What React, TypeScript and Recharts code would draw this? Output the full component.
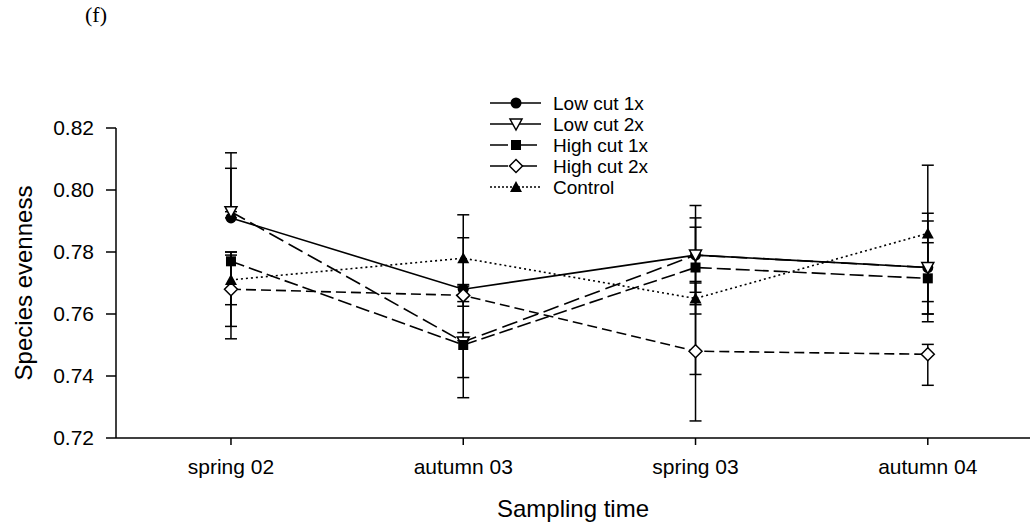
import { LineChart, Line, XAxis, YAxis, ErrorBar, Label } from 'recharts';

const timeLabels = ['spring 02', 'autumn 03', 'spring 03', 'autumn 04'];
const yTicks = [0.72, 0.74, 0.76, 0.78, 0.8, 0.82];

// means per sampling time
const lowCut1x = [0.791, 0.768, 0.779, 0.775];
const lowCut2x = [0.793, 0.751, 0.779, 0.775];
const highCut1x = [0.777, 0.750, 0.775, 0.7715];
const highCut2x = [0.768, 0.766, 0.748, 0.747];
const control = [0.771, 0.778, 0.765, 0.786];

// error bars as [below, above]
const lowCut1xErr = [[0, 0.016], [0.0166, 0.0166], [0.016, 0.016], [0.0175, 0.0175]];
const lowCut2xErr = [[0, 0.019], [0.018, 0.018], [0.012, 0.012], [0.015, 0.015]];
const highCut1xErr = [[0.025, 0.003], [0.0105, 0.004], [0.0345, 0.013], [0.0115, 0.0115]];
const highCut2xErr = [[0.012, 0.012], [0.0035, 0.0035], [0.0225, 0.0225], [0.010, 0.0032]];
const controlErr = [[0.008, 0.008], [0.014, 0.014], [0.005, 0.005], [0.022, 0.022]];

const data = timeLabels.map((name, i) => ({
  t: i,
  name,
  lc1: lowCut1x[i],
  lc1Err: lowCut1xErr[i],
  lc2: lowCut2x[i],
  lc2Err: lowCut2xErr[i],
  hc1: highCut1x[i],
  hc1Err: highCut1xErr[i],
  hc2: highCut2x[i],
  hc2Err: highCut2xErr[i],
  ctl: control[i],
  ctlErr: controlErr[i],
}));

const FONT = '"Liberation Sans", Arial, sans-serif';

type Shape = 'circle' | 'triDown' | 'square' | 'diamond' | 'triUp';

function marker(shape: Shape, cx: number, cy: number, key?: string | number) {
  switch (shape) {
    case 'circle':
      return <circle key={key} cx={cx} cy={cy} r={5.5} fill="#000" />;
    case 'triDown':
      return (
        <polygon key={key} points={`${cx - 6},${cy - 5} ${cx + 6},${cy - 5} ${cx},${cy + 6}`} fill="#fff" stroke="#000" strokeWidth={1.5} />
      );
    case 'square':
      return <rect key={key} x={cx - 5} y={cy - 5} width={10} height={10} fill="#000" />;
    case 'diamond':
      return (
        <polygon key={key} points={`${cx},${cy - 6.5} ${cx + 6.5},${cy} ${cx},${cy + 6.5} ${cx - 6.5},${cy}`} fill="#fff" stroke="#000" strokeWidth={1.5} />
      );
    default:
      return <polygon key={key} points={`${cx - 6},${cy + 5} ${cx + 6},${cy + 5} ${cx},${cy - 6}`} fill="#000" />;
  }
}

const series: { key: string; name: string; shape: Shape; dash?: string }[] = [
  { key: 'lc1', name: 'Low cut 1x', shape: 'circle' },
  { key: 'lc2', name: 'Low cut 2x', shape: 'triDown', dash: '16 6' },
  { key: 'hc1', name: 'High cut 1x', shape: 'square', dash: '14 5' },
  { key: 'hc2', name: 'High cut 2x', shape: 'diamond', dash: '10 5' },
  { key: 'ctl', name: 'Control', shape: 'triUp', dash: '2 3' },
];

function LegendBox() {
  return (
    <svg width={220} height={110} style={{ position: 'absolute', left: 488, top: 95, overflow: 'visible' }}>
      {series.map((s, i) => {
        const y = 8 + i * 21;
        return (
          <g key={s.key}>
            <line x1={2} x2={53} y1={y} y2={y} stroke="#000" strokeWidth={1.5} strokeDasharray={s.key === 'ctl' ? '2 2' : s.key.startsWith('hc') ? '18 4 3 4' : undefined} />
            {marker(s.shape, 28, y)}
            <text x={65} y={y + 7} fontSize={19} fontFamily={FONT} fill="#000">{s.name}</text>
          </g>
        );
      })}
    </svg>
  );
}

export default function App() {
  return (
    <div style={{ position: 'absolute', left: 0, top: 0, width: 1036, height: 527, background: '#fff' }}>
      <div style={{ position: 'absolute', left: 85, top: 2, fontSize: 22, fontFamily: 'serif' }}>(f)</div>
      <LineChart width={1036} height={527} data={data} margin={{ top: 128, right: 6, bottom: 29, left: 0 }}>
        <XAxis
          type="number"
          dataKey="t"
          domain={[-0.495, 3.44]}
          ticks={[0, 1, 2, 3]}
          allowDataOverflow
          tickFormatter={(v: number) => timeLabels[v]}
          tickSize={7}
          tickMargin={14}
          height={60}
          stroke="#000"
          strokeWidth={1.5}
          tick={{ fill: '#000', fontSize: 21, fontFamily: FONT }}
        >
          <Label
            content={() => (
              <text x={573} y={517} textAnchor="middle" fontSize={24} fontFamily={FONT} fill="#000">
                Sampling time
              </text>
            )}
          />
        </XAxis>
        <YAxis
          domain={[0.72, 0.82]}
          ticks={yTicks}
          tickFormatter={(v: number) => v.toFixed(2)}
          width={116}
          tickSize={10}
          tickMargin={12}
          stroke="#000"
          strokeWidth={1.5}
          tick={{ fill: '#000', fontSize: 21, fontFamily: FONT }}
        >
          <Label
            content={() => (
              <text x={32} y={283} transform="rotate(-90 32 283)" textAnchor="middle" fontSize={24} fontFamily={FONT} fill="#000">
                Species evenness
              </text>
            )}
          />
        </YAxis>
        {series.map((s) => (
          <Line
            key={s.key}
            dataKey={s.key}
            name={s.name}
            stroke="#000"
            strokeWidth={1.6}
            strokeDasharray={s.dash}
            isAnimationActive={false}
            dot={(p: any) => marker(s.shape, p.cx, p.cy, `${s.key}-${p.index}`)}
            activeDot={false}
          >
            <ErrorBar dataKey={`${s.key}Err`} width={6} stroke="#000" strokeWidth={1.5} direction="y" />
          </Line>
        ))}
      </LineChart>
      <LegendBox />
    </div>
  );
}
